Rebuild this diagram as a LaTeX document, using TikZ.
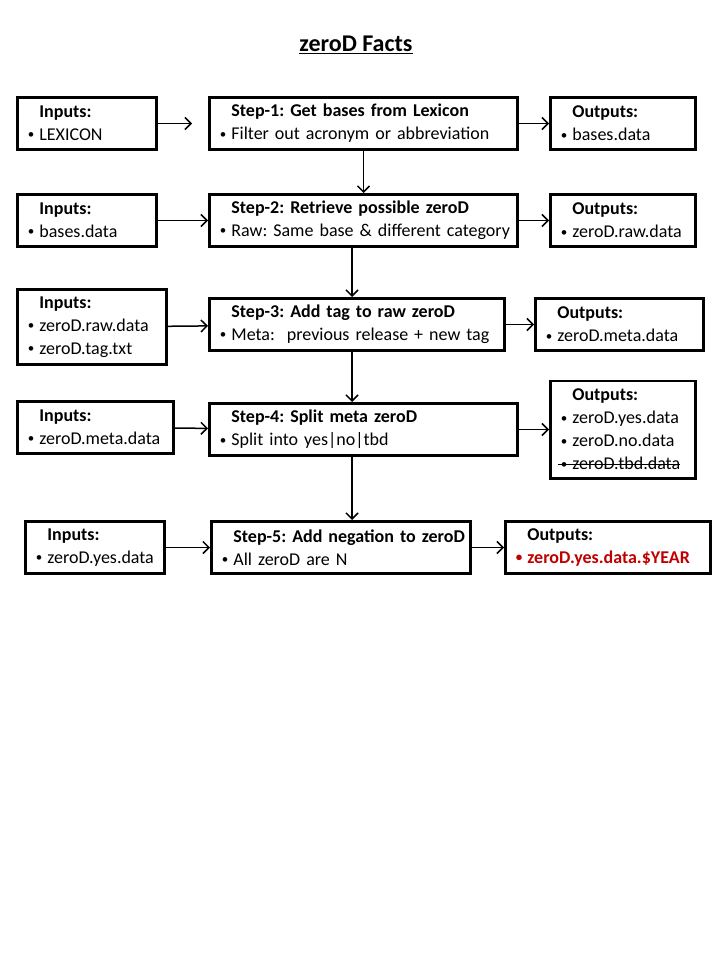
\documentclass[tikz,border=0pt]{standalone}
\usepackage{fontspec}
\setmainfont{Carlito}
\usetikzlibrary{arrows.meta,positioning}
\definecolor{yearred}{RGB}{192,0,0}
\frenchspacing
\newsavebox{\strikebox}
\newcommand{\smallbullet}{\makebox[14pt][l]{\hspace*{2.5pt}\raisebox{0.1em}{\fontsize{13}{13}\selectfont\textbullet}}}
\newcommand{\boxhead}[1]{\mbox{\hspace*{14pt}\textbf{#1}}}
\newcommand{\boxitem}[1]{\mbox{\smallbullet#1}}
\newcommand{\strikeitem}[1]{\sbox{\strikebox}{\smallbullet#1}%
  \mbox{\usebox{\strikebox}\llap{\rule[0.27em]{\wd\strikebox}{1.2pt}}}}

\begin{document}
\begin{tikzpicture}[
    node distance=40pt,
    flowbox/.style={rectangle,draw,line width=2.8pt,inner xsep=8pt,inner ysep=2pt,
      minimum height=52.2pt,align=left,font=\fontsize{18}{23}\selectfont},
    inbox/.style={flowbox,text width=123.2pt},
    stepbox/.style={flowbox,text width=292.2pt},
    outbox/.style={flowbox,text width=129.2pt},
    arrow/.style={-{Straight Barb[length=6pt,width=12pt]},line width=1.5pt}
  ]
  \useasboundingbox (0,0) rectangle (720pt,-960pt);
  \node[font=\fontsize{24}{28}\selectfont\bfseries] (title) at (356pt,-45pt) {\underline{zeroD Facts}};
  \coordinate (spine) at (352pt,0);

  % steps
  \node[stepbox,anchor=north west] (step1) at (208pt,-96pt)
    {\boxhead{Step-1: Get bases from Lexicon}\\\boxitem{Filter out acronym or abbreviation}};
  \node[stepbox,below=42pt of step1] (step2)
    {\boxhead{Step-2: Retrieve possible zeroD}\\\boxitem{Raw: Same base \& different category}};
  \node[stepbox,text width=279.2pt,below right=49pt and 0pt of step2.south west] (step3)
    {\boxhead{Step-3: Add tag to raw zeroD}\\\boxitem{Meta:\ \ previous release + new tag}};
  \node[stepbox,below right=50pt and 0pt of step3.south west] (step4)
    {\boxhead{Step-4: Split meta zeroD}\\\boxitem{Split into yes|no|tbd}};
  \node[stepbox,text width=243.2pt,below right=63pt and 2pt of step4.south west] (step5)
    {\boxhead{Step-5: Add negation to zeroD}\\\boxitem{All zeroD are N}};

  % inputs
  \node[inbox,left=50pt of step1] (in1) {\boxhead{Inputs:}\\\boxitem{LEXICON}};
  \node[inbox,left=50pt of step2] (in2) {\boxhead{Inputs:}\\\boxitem{bases.data}};
  \node[inbox,text width=133.2pt,minimum height=75.2pt,left=40pt of step3,yshift=-2.5pt] (in3)
    {\boxhead{Inputs:}\\\boxitem{zeroD.raw.data}\\\boxitem{zeroD.tag.txt}};
  \node[inbox,text width=140.2pt,left=33pt of step4,yshift=2pt] (in4)
    {\boxhead{Inputs:}\\\boxitem{zeroD.meta.data}};
  \node[inbox,left=44pt of step5] (in5) {\boxhead{Inputs:}\\\boxitem{zeroD.yes.data}};

  % outputs
  \node[outbox,right=30pt of step1] (out1) {\boxhead{Outputs:}\\\boxitem{bases.data}};
  \node[outbox,right=30pt of step2] (out2) {\boxhead{Outputs:}\\\boxitem{zeroD.raw.data}};
  \node[outbox,text width=152.2pt,right=28pt of step3] (out3) {\boxhead{Outputs:}\\\boxitem{zeroD.meta.data}};
  \node[outbox,minimum height=97.2pt,right=30pt of step4] (out4)
    {\boxhead{Outputs:}\\\boxitem{zeroD.yes.data}\\\boxitem{zeroD.no.data}\\\strikeitem{zeroD.tbd.data}};
  \node[outbox,text width=189.2pt,right=32pt of step5] (out5)
    {\boxhead{Outputs:}\\{\color{yearred}\bfseries\boxitem{zeroD.yes.data.\$YEAR}}};

  \draw[arrow,shorten >=16pt] (in1) -- (step1);
  \draw[arrow] (in2) -- (step2);
  \draw[arrow] (in3) -- (step3);
  \draw[arrow] (in4) -- (step4);
  \draw[arrow] (in5) -- (step5);
  \draw[arrow] (step1) -- (out1);
  \draw[arrow] (step2) -- (out2);
  \draw[arrow] (step3) -- (out3);
  \draw[arrow] (step4) -- (out4);
  \draw[arrow] (step5) -- (out5);

  \draw[arrow] (step1) -- (step2);
  \draw[arrow] (step2.south -| spine) -- (step3.north -| spine);
  \draw[arrow] (step3.south -| spine) -- (step4.north -| spine);
  \draw[arrow] (step4.south -| spine) -- (step5.north -| spine);
\end{tikzpicture}
\end{document}
